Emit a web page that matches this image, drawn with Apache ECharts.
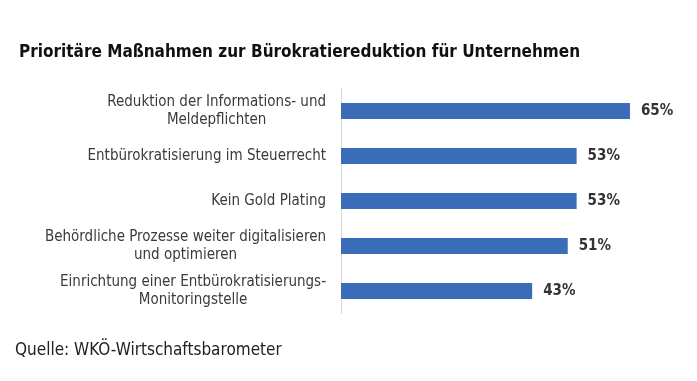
<!DOCTYPE html>
<html>
<head>
<meta charset="utf-8">
<script src="https://cdn.jsdelivr.net/npm/echarts@6/dist/echarts.min.js"></script>
<style>
html,body{margin:0;padding:0;background:#fff;}
#c{width:697px;height:381px;}
</style>
</head>
<body>
<div id="c"></div>
<script>
const categories = [
  "Reduktion der Informations- und\nMeldepflichten",
  "Entbürokratisierung im Steuerrecht",
  "Kein Gold Plating",
  "Behördliche Prozesse weiter digitalisieren\nund optimieren",
  "Einrichtung einer Entbürokratisierungs-\nMonitoringstelle"
];
const values = [65, 53, 53, 51, 43];
const titleText = "Prioritäre Maßnahmen zur Bürokratiereduktion für Unternehmen";
const sourceText = "Quelle: WKÖ-Wirtschaftsbarometer";

const FONT = "'DejaVu Sans Condensed', 'DejaVu Sans', sans-serif";
const chart = echarts.init(document.getElementById('c'), null, {renderer: 'canvas'});
chart.setOption({
  backgroundColor: '#ffffff',
  animation: false,
  title: {
    text: titleText,
    left: 14, top: 39,
    textStyle: {fontFamily: FONT, fontWeight: 'bold', fontSize: 17, color: '#111'}
  },
  graphic: [{
    type: 'text', left: 15, top: 342,
    style: {text: sourceText, fontFamily: FONT, fontSize: 17, fill: '#222'}
  }],
  grid: {left: 341, top: 88.5, width: 311.2, height: 225, containLabel: false},
  xAxis: {
    type: 'value', min: 0, max: 70,
    show: false
  },
  yAxis: {
    type: 'category', inverse: true, data: categories,
    axisLine: {show: true, lineStyle: {color: '#d8d8d8', width: 1}},
    axisTick: {show: false},
    axisLabel: {
      margin: 15, align: 'right',
      formatter: function (v) {
        return v.split('\n').map(function (s) { return '{c|' + s + '}'; }).join('\n');
      },
      rich: {
        c: {align: 'center', fontFamily: FONT, fontSize: 15, color: '#3a3a3a', lineHeight: 18}
      }
    }
  },
  series: [{
    type: 'bar', data: values, barWidth: 16,
    itemStyle: {color: '#3b6cb8'},
    label: {
      show: true, position: 'right', distance: 11,
      formatter: '{c}%', fontFamily: FONT, fontWeight: 'bold', fontSize: 15, color: '#333'
    }
  }]
});
</script>
</body>
</html>
